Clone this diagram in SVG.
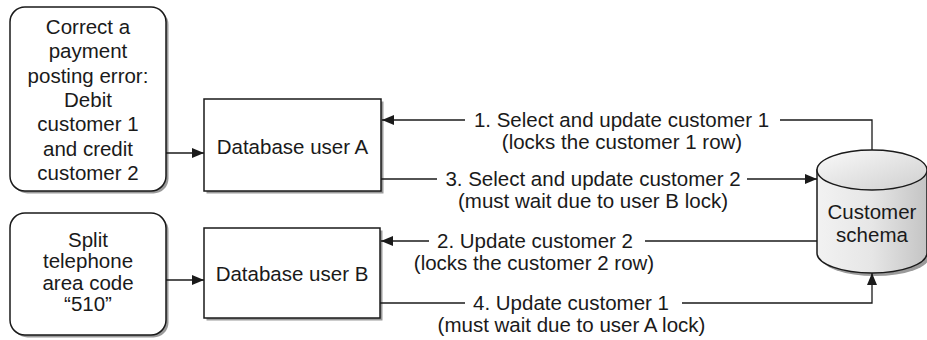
<svg xmlns="http://www.w3.org/2000/svg" width="927" height="340" viewBox="0 0 927 340">
<style>
text{font-family:"Liberation Sans",Arial,sans-serif;font-size:20.5px;fill:#1a1a1a;text-anchor:middle}
.box{fill:#fff;stroke:#1a1a1a;stroke-width:1.5}
.shadow{fill:#9a9a9a}
.ln{fill:none;stroke:#1a1a1a;stroke-width:1.3}
</style>
<defs>
<marker id="ah" viewBox="0 0 12 10" refX="12" refY="5" markerWidth="12" markerHeight="10" markerUnits="userSpaceOnUse" orient="auto">
<path d="M0,0 L12,5 L0,10 Z" fill="#1a1a1a"/>
</marker>
<linearGradient id="cylg" x1="0" y1="0" x2="1" y2="0">
<stop offset="0" stop-color="#f2f2f2"/>
<stop offset="0.5" stop-color="#e6e6e6"/>
<stop offset="1" stop-color="#c4c4c4"/>
</linearGradient>
<linearGradient id="topg" x1="0" y1="0" x2="1" y2="1">
<stop offset="0" stop-color="#fafafa"/>
<stop offset="1" stop-color="#cfcfcf"/>
</linearGradient>
</defs>

<g id="task-a">
<rect class="shadow" x="12.5" y="9.5" width="156" height="184" rx="15"/>
<rect class="box" x="10" y="7" width="156" height="184" rx="15"/>
<text x="88" y="34"><tspan x="88">Correct a</tspan><tspan x="88" dy="24.3">payment</tspan><tspan x="88" dy="24.3">posting error:</tspan><tspan x="88" dy="24.3">Debit</tspan><tspan x="88" dy="24.3">customer 1</tspan><tspan x="88" dy="24.3">and credit</tspan><tspan x="88" dy="24.3">customer 2</tspan></text>
</g>

<g id="task-b">
<rect class="shadow" x="12.5" y="215.5" width="156" height="122" rx="15"/>
<rect class="box" x="10" y="213" width="156" height="122" rx="15"/>
<text x="88" y="247"><tspan x="88">Split</tspan><tspan x="88" dy="21.3">telephone</tspan><tspan x="88" dy="21.3">area code</tspan><tspan x="88" dy="21.3">“510”</tspan></text>
</g>

<g id="user-a">
<rect class="shadow" x="206.5" y="101.5" width="177" height="92"/>
<rect class="box" x="204" y="99" width="177" height="92"/>
<text x="292.5" y="154">Database user A</text>
</g>

<g id="user-b">
<rect class="shadow" x="206.5" y="230.5" width="176" height="90"/>
<rect class="box" x="204" y="228" width="176" height="90"/>
<text x="292" y="281">Database user B</text>
</g>

<g id="customer-schema">
<path class="shadow" d="M820,173 L820,256 A55,20 0 0 0 930,256 L930,173 Z"/>
<path d="M817,170 L817,253 A55,20 0 0 0 927,253 L927,170 Z" fill="url(#cylg)" stroke="#1a1a1a" stroke-width="1.5"/>
<ellipse cx="872" cy="170" rx="55" ry="20" fill="url(#topg)" stroke="#1a1a1a" stroke-width="1.5"/>
<text x="872" y="219"><tspan x="872">Customer</tspan><tspan x="872" dy="23">schema</tspan></text>
</g>

<g id="connectors">
<line class="ln" x1="166" y1="153" x2="204" y2="153" marker-end="url(#ah)"/>
<line class="ln" x1="166" y1="280" x2="204" y2="280" marker-end="url(#ah)"/>
<polyline class="ln" points="872,150 872,120 780,120"/>
<line class="ln" x1="465" y1="120" x2="382" y2="120" marker-end="url(#ah)"/>
<line class="ln" x1="381" y1="179" x2="437" y2="179"/>
<line class="ln" x1="747" y1="179" x2="817" y2="179" marker-end="url(#ah)"/>
<line class="ln" x1="817" y1="241" x2="645" y2="241"/>
<line class="ln" x1="429" y1="241" x2="381" y2="241" marker-end="url(#ah)"/>
<line class="ln" x1="380" y1="303" x2="465" y2="303"/>
<polyline class="ln" points="682,303 872,303 872,273" marker-end="url(#ah)"/>
<text x="621.5" y="127"><tspan x="621.5">1. Select and update customer 1</tspan><tspan x="622" dy="22">(locks the customer 1 row)</tspan></text>
<text x="593" y="186"><tspan x="593">3. Select and update customer 2</tspan><tspan x="593" dy="22">(must wait due to user B lock)</tspan></text>
<text x="535" y="248"><tspan x="535">2. Update customer 2</tspan><tspan x="534" dy="22">(locks the customer 2 row)</tspan></text>
<text x="571" y="310"><tspan x="571">4. Update customer 1</tspan><tspan x="571.5" dy="22">(must wait due to user A lock)</tspan></text>
</g>
</svg>
